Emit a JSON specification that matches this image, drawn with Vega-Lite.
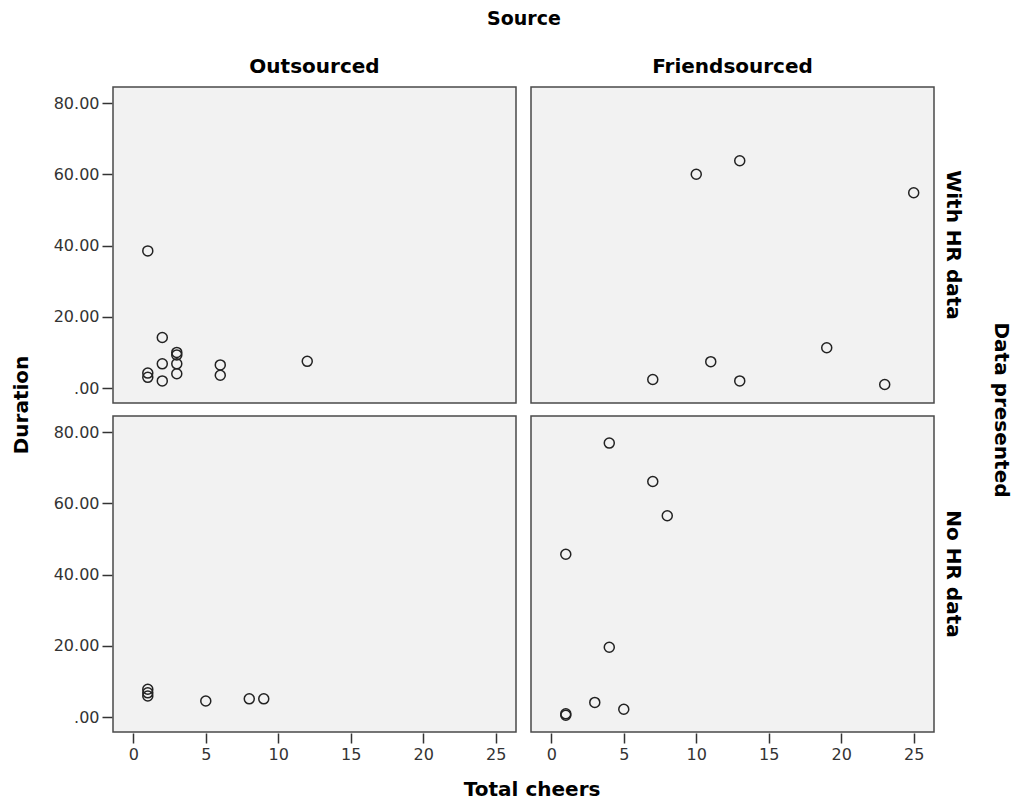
{
  "$schema": "https://vega.github.io/schema/vega-lite/v6.json",
  "padding": {"left": 12, "top": 10, "right": 8, "bottom": 5},
  "background": "white",
  "title": {"text": "Duration", "orient": "left", "anchor": "middle", "font": "DejaVu Sans", "fontSize": 20, "fontWeight": "bold", "color": "#000", "offset": 21},
  "data": {
    "values": [
      {"source": "Outsourced", "presented": "With HR data", "cheers": 1, "duration": 38.5},
      {"source": "Outsourced", "presented": "With HR data", "cheers": 2, "duration": 14.2},
      {"source": "Outsourced", "presented": "With HR data", "cheers": 3, "duration": 10.0},
      {"source": "Outsourced", "presented": "With HR data", "cheers": 3, "duration": 9.3},
      {"source": "Outsourced", "presented": "With HR data", "cheers": 3, "duration": 6.8},
      {"source": "Outsourced", "presented": "With HR data", "cheers": 3, "duration": 4.0},
      {"source": "Outsourced", "presented": "With HR data", "cheers": 2, "duration": 6.8},
      {"source": "Outsourced", "presented": "With HR data", "cheers": 2, "duration": 2.0},
      {"source": "Outsourced", "presented": "With HR data", "cheers": 1, "duration": 4.2},
      {"source": "Outsourced", "presented": "With HR data", "cheers": 1, "duration": 3.0},
      {"source": "Outsourced", "presented": "With HR data", "cheers": 6, "duration": 6.5},
      {"source": "Outsourced", "presented": "With HR data", "cheers": 6, "duration": 3.6},
      {"source": "Outsourced", "presented": "With HR data", "cheers": 12, "duration": 7.5},
      {"source": "Friendsourced", "presented": "With HR data", "cheers": 10, "duration": 60.0},
      {"source": "Friendsourced", "presented": "With HR data", "cheers": 13, "duration": 63.8},
      {"source": "Friendsourced", "presented": "With HR data", "cheers": 25, "duration": 54.8},
      {"source": "Friendsourced", "presented": "With HR data", "cheers": 7, "duration": 2.4},
      {"source": "Friendsourced", "presented": "With HR data", "cheers": 11, "duration": 7.4},
      {"source": "Friendsourced", "presented": "With HR data", "cheers": 13, "duration": 2.0},
      {"source": "Friendsourced", "presented": "With HR data", "cheers": 19, "duration": 11.3},
      {"source": "Friendsourced", "presented": "With HR data", "cheers": 23, "duration": 1.0},
      {"source": "Outsourced", "presented": "No HR data", "cheers": 1, "duration": 7.8},
      {"source": "Outsourced", "presented": "No HR data", "cheers": 1, "duration": 6.8},
      {"source": "Outsourced", "presented": "No HR data", "cheers": 1, "duration": 5.9},
      {"source": "Outsourced", "presented": "No HR data", "cheers": 5, "duration": 4.5},
      {"source": "Outsourced", "presented": "No HR data", "cheers": 8, "duration": 5.1},
      {"source": "Outsourced", "presented": "No HR data", "cheers": 9, "duration": 5.1},
      {"source": "Friendsourced", "presented": "No HR data", "cheers": 4, "duration": 76.9},
      {"source": "Friendsourced", "presented": "No HR data", "cheers": 7, "duration": 66.1},
      {"source": "Friendsourced", "presented": "No HR data", "cheers": 8, "duration": 56.5},
      {"source": "Friendsourced", "presented": "No HR data", "cheers": 1, "duration": 45.7},
      {"source": "Friendsourced", "presented": "No HR data", "cheers": 4, "duration": 19.6},
      {"source": "Friendsourced", "presented": "No HR data", "cheers": 3, "duration": 4.1},
      {"source": "Friendsourced", "presented": "No HR data", "cheers": 5, "duration": 2.2},
      {"source": "Friendsourced", "presented": "No HR data", "cheers": 1, "duration": 0.9},
      {"source": "Friendsourced", "presented": "No HR data", "cheers": 1, "duration": 0.5}
    ]
  },
  "hconcat": [
    {
      "title": {"text": "Total cheers", "orient": "bottom", "anchor": "middle", "font": "DejaVu Sans", "fontSize": 20, "fontWeight": "bold", "color": "#000", "offset": 18},
      "facet": {
        "column": {
          "field": "source",
          "type": "nominal",
          "sort": ["Outsourced", "Friendsourced"],
          "title": "Source",
          "header": {
            "titleFontSize": 19,
            "titleFont": "DejaVu Sans",
            "titleFontWeight": "bold",
            "titleColor": "#000",
            "titlePadding": 18,
            "labelFontSize": 20,
            "labelFont": "DejaVu Sans",
            "labelFontWeight": "bold",
            "labelColor": "#000",
            "labelPadding": 9
          }
        },
        "row": {
          "field": "presented",
          "type": "nominal",
          "sort": ["With HR data", "No HR data"],
          "title": "Data presented",
          "header": {
            "labelOrient": "right",
            "titleOrient": "right",
            "labelAngle": 90,
            "titleAngle": 90,
            "titleFontSize": 20,
            "titleFont": "DejaVu Sans",
            "titleFontWeight": "bold",
            "titleColor": "#000",
            "titlePadding": 18,
            "labelFontSize": 20,
            "labelFont": "DejaVu Sans",
            "labelFontWeight": "bold",
            "labelColor": "#000",
            "labelPadding": 8
          }
        }
      },
      "spacing": {"row": 11, "column": 13},
      "spec": {
        "width": 403,
        "height": 316,
        "mark": {"type": "point", "shape": "circle", "filled": false, "size": 100, "stroke": "#222", "strokeWidth": 1.5, "opacity": 1},
        "encoding": {
          "x": {
            "field": "cheers",
            "type": "quantitative",
            "title": null,
            "scale": {"domain": [-1.4, 26.4], "nice": false, "zero": false},
            "axis": {"values": [0, 5, 10, 15, 20, 25], "format": "d"}
          },
          "y": {
            "field": "duration",
            "type": "quantitative",
            "title": null,
            "scale": {"domain": [-4.2, 84.5], "nice": false, "zero": false},
            "axis": {"values": [0, 20, 40, 60, 80], "labelExpr": "datum.value == 0 ? '.00' : format(datum.value, '.2f')"}
          }
        }
      }
    }
  ],
  "config": {
    "view": {"fill": "#f2f2f2", "stroke": "#4a4a4a", "strokeWidth": 1.5},
    "axis": {
      "domain": false,
      "grid": false,
      "ticks": true,
      "tickColor": "#333",
      "tickWidth": 1.5,
      "tickSize": 10,
      "labelPadding": 3,
      "labelFont": "DejaVu Sans",
      "labelFontSize": 16,
      "labelColor": "#333"
    }
  }
}
